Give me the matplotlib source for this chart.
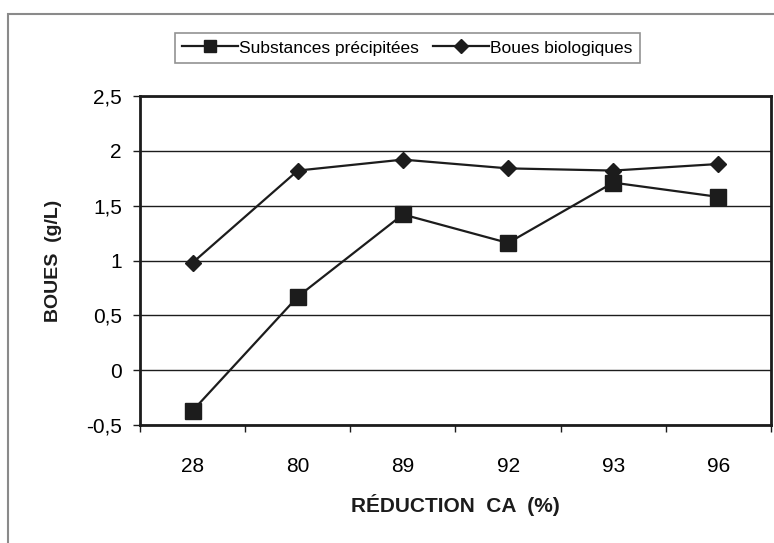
import numpy as np
import matplotlib.pyplot as plt
from matplotlib.patches import Rectangle
from matplotlib.ticker import FixedLocator, FuncFormatter

plt.rcParams['font.family'] = ['Liberation Sans', 'DejaVu Sans']

# data
reductions = ['28', '80', '89', '92', '93', '96']
precipitees = [-0.37, 0.67, 1.42, 1.16, 1.71, 1.58]
biologiques = [0.98, 1.82, 1.92, 1.84, 1.82, 1.88]
y_ticks = [-0.5, 0, 0.5, 1, 1.5, 2, 2.5]

fig = plt.figure(figsize=(7.74, 5.43), dpi=100)
ax = fig.add_axes([140 / 774, 1 - 425 / 543, 631 / 774, 329 / 543])

x = np.arange(len(reductions))
ink = '#1c1c1c'
ax.plot(x, precipitees, color=ink, lw=1.6, marker='s', ms=11, label='Substances précipitées', zorder=3)
ax.plot(x, biologiques, color=ink, lw=1.6, marker='D', ms=8.5, label='Boues biologiques', zorder=3)

ax.set_xlim(-0.5, len(reductions) - 0.5)
ax.set_ylim(-0.5, 2.5)

# y axis, comma decimals like the original
ax.yaxis.set_major_locator(FixedLocator(y_ticks))
ax.yaxis.set_major_formatter(FuncFormatter(lambda v, p: ('%g' % v).replace('.', ',')))
ax.grid(True, axis='y', color=ink, lw=1.0)
ax.set_axisbelow(True)

# x axis: ticks between categories, labels in the middle
ax.set_xticks(x)
ax.set_xticklabels(reductions)
ax.set_xticks(np.arange(-0.5, len(reductions)), minor=True)
ax.tick_params(axis='x', which='major', length=0, pad=23, labelsize=15)
ax.tick_params(axis='x', which='minor', length=5, width=1, direction='out', color=ink)
ax.tick_params(axis='y', length=5, width=1, direction='out', labelsize=15, pad=8, color=ink)

for s in ax.spines.values():
    s.set_linewidth(2)
    s.set_color(ink)

ax.set_xlabel('RÉDUCTION  CA  (%)', fontsize=15, fontweight='bold', labelpad=13, color=ink)
ax.set_ylabel('BOUES  (g/L)', fontsize=14, fontweight='bold', labelpad=17, color=ink)

leg = fig.legend(loc='center', bbox_to_anchor=(0.5265, 1 - 48 / 543), ncol=2, fontsize=12.5,
                 frameon=True, fancybox=False, edgecolor='#777777', handlelength=3.2,
                 handletextpad=0.1, columnspacing=0.8, borderpad=0.4, markerscale=0.8)
leg.get_frame().set_linewidth(1.2)

# outer chart-area frame
fig.patches.append(Rectangle((8 / 774, -0.05), 1.1, 1 - 14 / 543 + 0.05, transform=fig.transFigure,
                             fill=False, edgecolor='#8a8a8a', lw=1.5))

fig.savefig('out.png', dpi=100)
